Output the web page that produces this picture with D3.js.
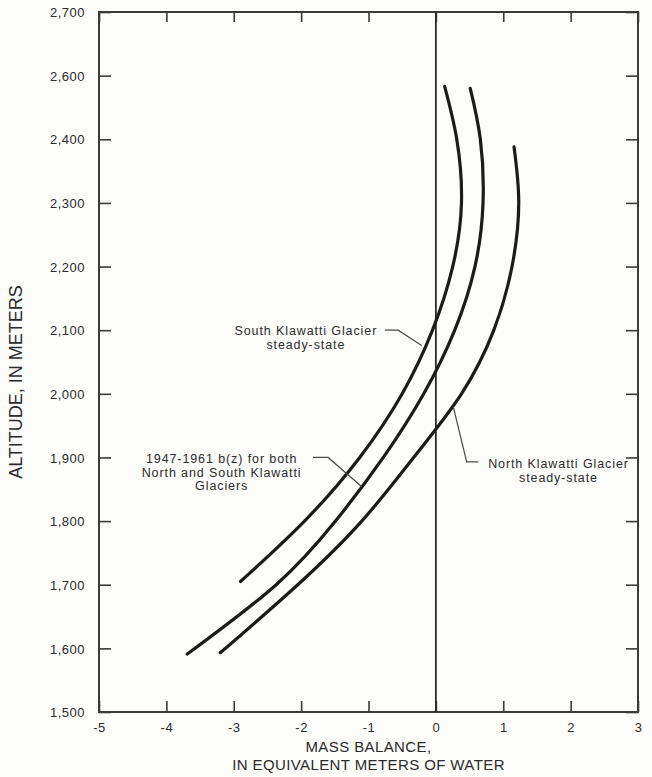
<!DOCTYPE html>
<html>
<head>
<meta charset="utf-8">
<script src="https://cdn.jsdelivr.net/npm/d3@7"></script>
<style>
  html, body { margin: 0; padding: 0; background: #fcfcfa; }
  svg { display: block; font-family: "Liberation Sans", Arial, sans-serif; }
  .lbl { fill: #2b2b2b; font-size: 12.5px; letter-spacing: 0.9px; }
</style>
</head>
<body>
<div id="chart"></div>
<script>
const width = 652,
  height = 777;
const margin = { top: 12, right: 14, bottom: 65, left: 99 };

// x ticks and y ticks (the printed y labels skip 2,500 in the original figure)
const xTicks = [-5, -4, -3, -2, -1, 0, 1, 2, 3];
const yTicks = [1500, 1600, 1700, 1800, 1900, 2000, 2100, 2200, 2300, 2400, 2500, 2600];
const yTickLabels = ["1,500", "1,600", "1,700", "1,800", "1,900", "2,000", "2,100", "2,200", "2,300", "2,400", "2,600", "2,700"];

// curves: [mass balance (m water), altitude (m)]
const southSteady = [
  [-2.9, 1705], [-1.95, 1800], [-1.13, 1900], [-0.5, 2000], [-0.05, 2100],
  [0.25, 2200], [0.38, 2300], [0.31, 2400], [0.13, 2483]
];
const bz1947 = [
  [-3.69, 1591], [-2.37, 1700], [-1.49, 1800], [-0.78, 1900], [-0.18, 2000],
  [0.28, 2100], [0.58, 2200], [0.70, 2300], [0.66, 2400], [0.51, 2480]
];
const northSteady = [
  [-3.2, 1593], [-2.05, 1700], [-1.10, 1800], [-0.33, 1900], [0.38, 2000],
  [0.86, 2100], [1.13, 2200], [1.23, 2300], [1.16, 2388]
];

// annotation text and leader lines, in data units
const annotations = [
  { lines: ["South Klawatti Glacier", "steady-state"], at: [-1.93, 2092],
    leader: [[-0.755, 2100], [-0.56, 2100], [-0.21, 2076]] },
  { lines: ["North Klawatti Glacier", "steady-state"], at: [1.82, 1883],
    leader: [[0.258, 1980], [0.457, 1893], [0.629, 1893]] },
  { lines: ["1947-1961 b(z) for both", "North and South Klawatti", "Glaciers"], at: [-3.18, 1891],
    leader: [[-1.824, 1900], [-1.60, 1900], [-1.10, 1854]] }
];

const svg = d3
  .select("#chart")
  .append("svg")
  .attr("width", width)
  .attr("height", height);

const x = d3.scaleLinear().domain([-5, 3]).range([margin.left, width - margin.right]);
const y = d3.scaleLinear().domain([1500, 2600]).range([height - margin.bottom, margin.top]);

const axisColor = "#3a3a3a";

// bottom axis with labels, ticks pointing inward
const gx = svg.append("g")
  .attr("transform", `translate(0,${y(1500)})`)
  .call(d3.axisBottom(x).tickValues(xTicks).tickFormat((d) => String(d)).tickSize(-11).tickPadding(11));
gx.selectAll("text").style("font-size", "13px").style("fill", "#2b2b2b");

// left axis with the printed labels
const gy = svg.append("g")
  .attr("transform", `translate(${x(-5)},0)`)
  .call(d3.axisLeft(y).tickValues(yTicks).tickFormat((d, i) => yTickLabels[i]).tickSize(-12).tickPadding(14));
gy.selectAll("text").style("font-size", "13px").style("fill", "#2b2b2b").attr("dy", "0.36em");

// top and right: ticks only
svg.append("g")
  .attr("transform", `translate(0,${y(2600)})`)
  .call(d3.axisTop(x).tickValues(xTicks).tickFormat("").tickSize(-10));
svg.append("g")
  .attr("transform", `translate(${x(3)},0)`)
  .call(d3.axisRight(y).tickValues(yTicks).tickFormat("").tickSize(-12));

svg.selectAll(".domain").remove();
svg.selectAll(".tick line").attr("stroke", axisColor).attr("stroke-width", 1.6);
svg.selectAll(".tick text").attr("font-family", "'Liberation Sans', Arial, sans-serif").style("letter-spacing", "0.5px");

// frame
svg.append("rect")
  .attr("x", x(-5))
  .attr("y", y(2600))
  .attr("width", x(3) - x(-5))
  .attr("height", y(1500) - y(2600))
  .attr("fill", "none")
  .attr("stroke", axisColor)
  .attr("stroke-width", 2);

// zero line
svg.append("line")
  .attr("x1", x(0)).attr("x2", x(0))
  .attr("y1", y(2600)).attr("y2", y(1500))
  .attr("stroke", "#2a2a2a")
  .attr("stroke-width", 1.8);

// the three curves
const line = d3.line()
  .x((d) => x(d[0]))
  .y((d) => y(d[1]))
  .curve(d3.curveNatural);

svg.selectAll("path.curve")
  .data([southSteady, bz1947, northSteady])
  .join("path")
  .attr("class", "curve")
  .attr("d", line)
  .attr("fill", "none")
  .attr("stroke", "#1b1b1b")
  .attr("stroke-width", 3.2)
  .attr("stroke-linecap", "round");

// annotations
const leader = d3.line().x((d) => x(d[0])).y((d) => y(d[1]));
annotations.forEach((a) => {
  svg.append("path")
    .attr("d", leader(a.leader))
    .attr("fill", "none")
    .attr("stroke", "#4a4a4a")
    .attr("stroke-width", 1.2);
  const t = svg.append("text")
    .attr("class", "lbl")
    .attr("text-anchor", "middle")
    .attr("x", x(a.at[0]))
    .attr("y", y(a.at[1]));
  a.lines.forEach((s, i) => {
    t.append("tspan").attr("x", x(a.at[0])).attr("dy", i === 0 ? 0 : 13.5).text(s);
  });
});

// axis titles
svg.append("text")
  .attr("x", (x(-5) + x(3)) / 2)
  .attr("y", 752)
  .attr("text-anchor", "middle")
  .style("font-size", "15px")
  .style("letter-spacing", "0.4px")
  .style("fill", "#2b2b2b")
  .text("MASS BALANCE,");
svg.append("text")
  .attr("x", (x(-5) + x(3)) / 2)
  .attr("y", 770)
  .attr("text-anchor", "middle")
  .style("font-size", "15px")
  .style("letter-spacing", "0.4px")
  .style("fill", "#2b2b2b")
  .text("IN EQUIVALENT METERS OF WATER");

svg.append("text")
  .attr("transform", `translate(22,${(y(1500) + y(2600)) / 2 + 20}) rotate(-90)`)
  .attr("text-anchor", "middle")
  .style("font-size", "18px")
  .style("fill", "#2b2b2b")
  .text("ALTITUDE, IN METERS");
</script>
</body>
</html>
